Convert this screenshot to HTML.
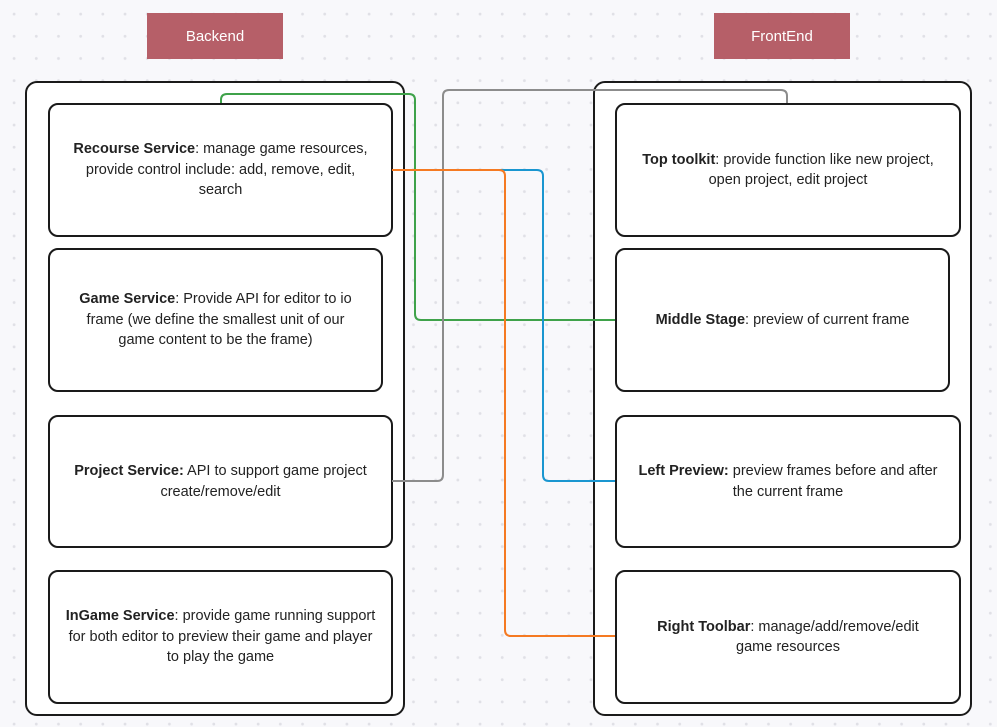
<!DOCTYPE html>
<html><head><style>
body{margin:0;width:997px;height:727px;overflow:hidden;background:#f8f8fb;
background-image:radial-gradient(circle,#e0e0e6 1.3px,transparent 1.6px);background-size:22.2px 22.2px;background-position:3px 3px;
font-family:"Liberation Sans",sans-serif;font-size:14.5px;color:#222;position:relative}
.lbl{position:absolute;background:#b65f68;color:#fff;display:flex;align-items:center;justify-content:center;font-size:15px}
.outer{position:absolute;border:2px solid #1a1a1a;border-radius:12px;background:#fff;box-sizing:border-box}
.box{position:absolute;border:2px solid #1a1a1a;border-radius:10px;background:#fff;box-sizing:border-box;display:flex;align-items:center;justify-content:center;text-align:center;line-height:20.5px;padding:0 20px}
b{font-weight:bold}
svg{position:absolute;left:0;top:0}
</style></head><body>
<div class="lbl" style="left:147px;top:13px;width:136px;height:46px">Backend</div>
<div class="lbl" style="left:714px;top:13px;width:136px;height:46px">FrontEnd</div>
<div class="outer" style="left:25px;top:81px;width:380px;height:635px"></div>
<div class="outer" style="left:593px;top:81px;width:379px;height:635px"></div>
<div class="box" style="left:48px;top:103px;width:345px;height:134px"><div><b>Recourse Service</b>: manage game resources, provide control include: add, remove, edit, search</div></div>
<div class="box" style="left:48px;top:248px;width:335px;height:144px;padding:0 22px"><div><b>Game Service</b>: Provide API for editor to io frame (we define the smallest unit of our game content to be the frame)</div></div>
<div class="box" style="left:48px;top:415px;width:345px;height:133px"><div><b>Project Service:</b> API to support game project create/remove/edit</div></div>
<div class="box" style="left:48px;top:570px;width:345px;height:134px;padding:0 12px"><div><b>InGame Service</b>: provide game running support for both editor to preview their game and player to play the game</div></div>
<div class="box" style="left:615px;top:103px;width:346px;height:134px"><div><b>Top toolkit</b>: provide function like new project, open project, edit project</div></div>
<div class="box" style="left:615px;top:248px;width:335px;height:144px"><div><b>Middle Stage</b>: preview of current frame</div></div>
<div class="box" style="left:615px;top:415px;width:346px;height:133px"><div><b>Left Preview:</b> preview frames before and after the current frame</div></div>
<div class="box" style="left:615px;top:570px;width:346px;height:134px;padding:0 26px"><div><b>Right Toolbar</b>: manage/add/remove/edit game resources</div></div>
<svg width="997" height="727" fill="none" stroke-width="2">
<path d="M221 103 V100 Q221 94 227 94 H409 Q415 94 415 100 V314 Q415 320 421 320 H615" stroke="#3fa24a"/>
<path d="M392 481 H437 Q443 481 443 475 V96 Q443 90 449 90 H781 Q787 90 787 96 V103" stroke="#8c8c8c"/>
<path d="M392 170 H537 Q543 170 543 176 V475 Q543 481 549 481 H615" stroke="#1a96d0"/>
<path d="M392 170 H499 Q505 170 505 176 V630 Q505 636 511 636 H615" stroke="#f57a22"/>
</svg>
</body></html>
